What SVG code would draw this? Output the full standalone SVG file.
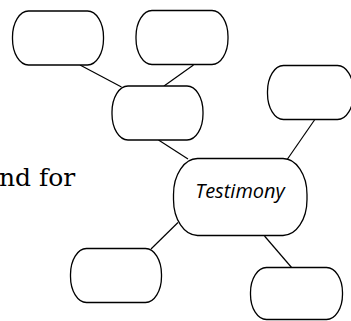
<svg xmlns="http://www.w3.org/2000/svg" width="351" height="321" viewBox="0 0 351 321">
<style>
.box{fill:#fff;stroke:#000;stroke-width:1.3}
.con{stroke:#000;stroke-width:1.2;fill:none}
.lbl{font-family:"Open Sans","Noto Sans",sans-serif;font-style:italic;font-size:20px;fill:#000}
.bg{font-family:"DejaVu Serif","Liberation Serif",serif;font-size:25px;fill:#000}
</style>
<rect width="351" height="321" fill="#fff"/>
<text class="bg" x="-1" y="186">nd for</text>
<g id="connectors">
<line class="con" x1="80" y1="65" x2="121.5" y2="87"/>
<line class="con" x1="193.5" y1="65" x2="164" y2="86"/>
<line class="con" x1="158.5" y1="140" x2="188" y2="159"/>
<line class="con" x1="314.5" y1="120" x2="287.5" y2="159"/>
<line class="con" x1="178" y1="222.5" x2="151" y2="249"/>
<line class="con" x1="264.5" y1="236" x2="292" y2="268"/>
</g>
<g id="n1"><rect class="box" x="12.5" y="11" width="91" height="54" rx="16" ry="26"/></g>
<g id="n2"><rect class="box" x="136" y="10.5" width="92" height="54" rx="16" ry="26"/></g>
<g id="n3"><rect class="box" x="112" y="86" width="91" height="54" rx="16" ry="26"/></g>
<g id="n4"><rect class="box" x="267.5" y="65.5" width="86" height="54" rx="16" ry="26"/></g>
<g id="testimony"><rect class="box" x="173.5" y="158.5" width="133.5" height="77" rx="24" ry="36"/>
<text class="lbl" x="240" y="198" text-anchor="middle">Testimony</text></g>
<g id="n6"><rect class="box" x="70.5" y="248.5" width="91" height="54" rx="16" ry="26"/></g>
<g id="n7"><rect class="box" x="250.5" y="267.5" width="92" height="52" rx="16" ry="25"/></g>
</svg>
